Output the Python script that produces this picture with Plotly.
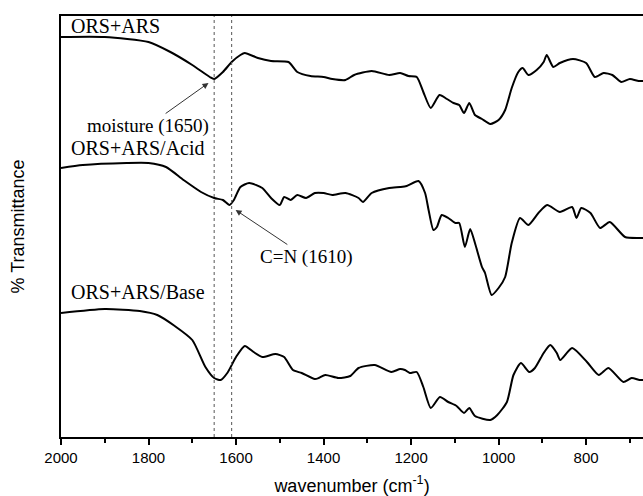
import plotly.graph_objects as go

# Wavenumber (cm-1) and relative transmittance (arbitrary, offset for stacking)
wn_ors = [2000, 1900, 1800, 1750, 1700, 1660, 1650, 1630, 1610, 1590, 1580, 1550, 1520, 1480,
          1460, 1430, 1400, 1380, 1350, 1330, 1290, 1250, 1225, 1206, 1187, 1172, 1155, 1135,
          1118, 1103, 1090, 1079, 1067, 1054, 1038, 1019, 1000, 985, 970, 955, 945, 932, 913,
          897, 890, 875, 860, 830, 800, 780, 760, 740, 720, 700, 680, 670]
t_ors = [400, 400, 395, 385, 372, 360, 358, 365, 375, 382, 384, 379, 376, 375,
         365, 361, 360, 358, 357, 362, 366, 362, 364, 361, 360, 345, 329, 342,
         338, 334, 332, 324, 334, 322, 318, 313, 317, 327, 349, 365, 369, 362, 367,
         375, 382, 370, 374, 378, 374, 360, 364, 362, 355, 358, 356, 356]

wn_acid = [2000, 1950, 1850, 1800, 1760, 1720, 1680, 1650, 1630, 1615, 1605, 1590, 1570, 1540,
           1520, 1500, 1490, 1475, 1460, 1440, 1420, 1400, 1380, 1350, 1320, 1310, 1290, 1250,
           1225, 1210, 1183, 1168, 1160, 1149, 1141, 1130, 1115, 1099, 1090, 1077, 1065, 1054,
           1038, 1031, 1016, 1000, 985, 970, 951, 932, 909, 889, 860, 832, 822, 811, 790, 768,
           746, 711, 680, 670]
t_acid = [269, 272, 274, 274, 270, 257, 245, 239, 237, 232, 237, 250, 254, 249,
          239, 232, 240, 237, 242, 239, 244, 244, 242, 244, 239, 235, 244, 249,
          250, 251, 256, 244, 227, 207, 210, 222, 219, 214, 214, 190, 208, 194,
          170, 164, 142, 149, 160, 194, 219, 212, 224, 232, 225, 230, 219, 229, 224, 209,
          215, 200, 199, 199]

wn_base = [2000, 1900, 1820, 1780, 1740, 1700, 1670, 1650, 1635, 1620, 1600, 1580, 1560, 1540,
           1510, 1490, 1470, 1450, 1420, 1411, 1396, 1366, 1339, 1320, 1283, 1245, 1225, 1214,
           1203, 1187, 1172, 1155, 1134, 1115, 1096, 1079, 1067, 1054, 1019, 1003, 981, 966,
           949, 930, 917, 897, 882, 867, 859, 832, 798, 771, 749, 715, 696, 678, 670]
t_base = [124, 128, 126, 122, 111, 97, 70, 59, 57, 64, 80, 91, 85, 80,
          83, 80, 67, 64, 58, 59, 62, 59, 61, 69, 72, 65, 68, 67,
          64, 65, 50, 29, 40, 35, 31, 24, 29, 21, 17, 22, 35, 62,
          74, 65, 69, 84, 92, 84, 77, 89, 75, 62, 69, 55, 59, 57, 57]

marker_wn = [1650, 1610]

x_range = [2000, 670]
y_range = [0, 421]

fig = go.Figure()
for wn, t in [(wn_ors, t_ors), (wn_acid, t_acid), (wn_base, t_base)]:
    fig.add_trace(go.Scatter(x=wn, y=t, mode="lines",
                             line=dict(color="black", width=2, shape="spline", smoothing=0.6),
                             showlegend=False, hoverinfo="skip"))

for w in marker_wn:
    fig.add_shape(type="line", xref="x", yref="paper", x0=w, x1=w, y0=0, y1=1,
                  line=dict(color="#555", width=1, dash="dot"))

serif = "Liberation Serif, Times New Roman, serif"
labels = [("ORS+ARS", 1982, 411), ("ORS+ARS/Acid", 1982, 289), ("ORS+ARS/Base", 1982, 145)]
for txt, x, y in labels:
    fig.add_annotation(x=x, y=y, xref="x", yref="y", text=txt, showarrow=False,
                       xanchor="left", yanchor="middle",
                       font=dict(family=serif, size=20, color="black"))

# moisture annotation with arrow (text centred at ax, ay)
fig.add_annotation(x=1663, y=354, ax=1801, ay=311, xref="x", yref="y", axref="x", ayref="y",
                   text="moisture (1650)", showarrow=True, arrowhead=2, arrowsize=1.2,
                   arrowwidth=1, arrowcolor="#333",
                   font=dict(family=serif, size=19, color="black"))
# C=N annotation with arrow
fig.add_annotation(x=1601, y=227, ax=1440, ay=180, xref="x", yref="y", axref="x", ayref="y",
                   text="C=N (1610)", showarrow=True, arrowhead=2, arrowsize=1.2,
                   arrowwidth=1, arrowcolor="#333",
                   font=dict(family=serif, size=19, color="black"))

fig.update_layout(
    width=643, height=496,
    margin=dict(l=61, r=0, t=16, b=59),
    paper_bgcolor="white", plot_bgcolor="white",
    font=dict(family="Liberation Sans, Arial, sans-serif", color="black"),
    xaxis=dict(range=x_range, showgrid=False, zeroline=False, showline=True,
               linecolor="black", linewidth=2, mirror=True,
               ticks="outside", ticklen=6, tickwidth=1.5, tickcolor="black",
               tick0=2000, dtick=200, tickfont=dict(size=15),
               minor=dict(ticks="outside", ticklen=4, dtick=100, tickcolor="black", tickwidth=1.5),
               title=dict(text="wavenumber (cm<sup>-1</sup>)", font=dict(size=18), standoff=14)),
    yaxis=dict(range=y_range, showgrid=False, zeroline=False, showline=True,
               linecolor="black", linewidth=2, showticklabels=False, ticks="",
               title=dict(text="% Transmittance", font=dict(size=18), standoff=30)),
)

fig.write_html("out.html")
